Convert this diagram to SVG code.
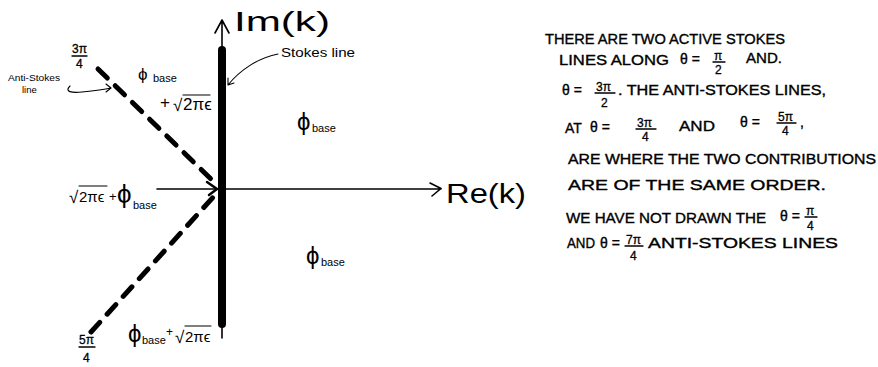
<svg xmlns="http://www.w3.org/2000/svg" width="878" height="367" viewBox="0 0 878 367">
  <style>
    .ink { fill: none; stroke: #000; stroke-linecap: round; stroke-linejoin: round; }
    .thin { stroke-width: 1.6; }
    .dash { stroke-width: 5; stroke-dasharray: 13 11; }
    text { font-family: "Liberation Sans", "DejaVu Sans", sans-serif; fill: #000; }
    .note { font-size: 14px; stroke: #000; stroke-width: 0.35; }
    .frac { font-size: 12px; stroke: #000; stroke-width: 0.3; }
    .lab { font-size: 17px; }
    .sub { font-size: 11px; }
    .axis { font-size: 27px; }
  </style>

  <!-- axes and Stokes / anti-Stokes lines -->
  <g id="connectors">
    <!-- imaginary axis -->
    <path class="ink thin" d="M222 338 V20 M215 33 L222 20 L229 33"/>
    <!-- Stokes line (thick) -->
    <path class="ink" stroke-width="8" d="M222 50 V324"/>
    <!-- real axis -->
    <path class="ink thin" d="M157 189 H441 M430 183 L441 188.5 L432 196"/>
    <!-- anti-Stokes line at 3pi/4 -->
    <path class="ink dash" d="M98 69 L214 182"/>
    <path class="ink" stroke-width="2.5" d="M207 182 L217 189 L209 195"/>
    <!-- anti-Stokes line at 5pi/4 -->
    <path class="ink dash" d="M91 332 L216 194"/>
    <!-- pointers to the labelled lines -->
    <path class="ink" stroke-width="1.1" d="M278 54 C258 58 240 70 228 85 M228 78 L228 85 L234 83"/>
    <path class="ink" stroke-width="1.1" d="M70 86 C64 92 72 93 82 92 C92 91 102 90 111 88 M106 84 L111 88 L106 92"/>
  </g>

  <g id="axis-im">
    <text class="axis" x="234" y="31" textLength="96" lengthAdjust="spacingAndGlyphs">Im(k)</text>
  </g>
  <g id="axis-re">
    <text class="axis" x="446" y="203" textLength="80" lengthAdjust="spacingAndGlyphs">Re(k)</text>
  </g>

  <g id="stokes-label">
    <text x="281" y="57" font-size="12" textLength="74" lengthAdjust="spacingAndGlyphs">Stokes line</text>
  </g>
  <g id="anti-stokes-label">
    <text x="8" y="81" font-size="9.5" textLength="52" lengthAdjust="spacingAndGlyphs">Anti-Stokes</text>
    <text x="22" y="93" font-size="9.5">line</text>
  </g>

  <g id="angle-3pi4">
    <text class="frac" x="72" y="53">3π</text>
    <path class="ink" stroke-width="1.3" d="M72 56 H87"/>
    <text class="frac" x="76" y="68">4</text>
  </g>
  <g id="angle-5pi4">
    <text class="frac" x="79" y="344">5π</text>
    <path class="ink" stroke-width="1.3" d="M79 347 H95"/>
    <text class="frac" x="83" y="362">4</text>
  </g>

  <!-- region labels -->
  <g id="region-upper-left">
    <text class="lab" x="138" y="80" font-size="24">ϕ</text>
    <text class="sub" x="153" y="82">base</text>
    <text class="lab" x="160" y="108">+</text>
    <text class="lab" x="173" y="111">√</text>
    <path class="ink" stroke-width="1.2" d="M183 95 H210"/>
    <text class="lab" x="183" y="110" font-size="15">2πϵ</text>
  </g>
  <g id="region-upper-right">
    <text x="297" y="130" font-size="24">ϕ</text>
    <text class="sub" x="312" y="132">base</text>
  </g>
  <g id="region-left">
    <text class="lab" x="69" y="203">√</text>
    <path class="ink" stroke-width="1.2" d="M79 186 H107"/>
    <text x="79" y="202" font-size="15">2πϵ</text>
    <text x="109" y="201" font-size="13">+</text>
    <text x="117" y="203" font-size="26">ϕ</text>
    <text class="sub" x="133" y="209">base</text>
  </g>
  <g id="region-lower-right">
    <text x="306" y="264" font-size="24">ϕ</text>
    <text class="sub" x="321" y="266">base</text>
  </g>
  <g id="region-lower-left">
    <text x="128" y="342" font-size="24">ϕ</text>
    <text class="sub" x="142" y="344">base</text>
    <text x="166" y="336" font-size="12">+</text>
    <text class="lab" x="175" y="343">√</text>
    <path class="ink" stroke-width="1.2" d="M185 326 H211"/>
    <text x="185" y="342" font-size="15">2πϵ</text>
  </g>

  <!-- explanatory note -->
  <g id="note">
    <text class="note" x="545" y="44" textLength="240" lengthAdjust="spacingAndGlyphs">THERE ARE TWO ACTIVE STOKES</text>

    <text class="note" x="559" y="65" textLength="110" lengthAdjust="spacingAndGlyphs">LINES ALONG</text>
    <text class="note" x="680" y="64">θ =</text>
    <text class="frac" x="714" y="60">π</text>
    <path class="ink" stroke-width="1.3" d="M713 62 H725"/>
    <text class="frac" x="715" y="74">2</text>
    <text class="note" x="746" y="63" textLength="36" lengthAdjust="spacingAndGlyphs">AND.</text>

    <text class="note" x="562" y="95">θ =</text>
    <text class="frac" x="596" y="91">3π</text>
    <path class="ink" stroke-width="1.3" d="M595 93 H615"/>
    <text class="frac" x="601" y="107">2</text>
    <text class="note" x="618" y="95" textLength="208" lengthAdjust="spacingAndGlyphs">. THE ANTI-STOKES LINES,</text>

    <text class="note" x="565" y="133">AT</text>
    <text class="note" x="590" y="132">θ =</text>
    <text class="frac" x="637" y="127">3π</text>
    <path class="ink" stroke-width="1.3" d="M636 129 H656"/>
    <text class="frac" x="642" y="141">4</text>
    <text class="note" x="679" y="131" textLength="36" lengthAdjust="spacingAndGlyphs">AND</text>
    <text class="note" x="740" y="127">θ =</text>
    <text class="frac" x="778" y="121">5π</text>
    <path class="ink" stroke-width="1.3" d="M777 123 H796"/>
    <text class="frac" x="782" y="135">4</text>
    <text class="note" x="800" y="127">,</text>

    <text class="note" x="568" y="164" textLength="308" lengthAdjust="spacingAndGlyphs">ARE WHERE THE TWO CONTRIBUTIONS</text>
    <text class="note" x="568" y="190" textLength="258" lengthAdjust="spacingAndGlyphs">ARE OF THE SAME ORDER.</text>

    <text class="note" x="566" y="223" textLength="200" lengthAdjust="spacingAndGlyphs">WE HAVE NOT DRAWN THE</text>
    <text class="note" x="780" y="221">θ =</text>
    <text class="frac" x="806" y="215">π</text>
    <path class="ink" stroke-width="1.3" d="M805 217 H817"/>
    <text class="frac" x="807" y="230">4</text>

    <text class="note" x="567" y="248" textLength="28" lengthAdjust="spacingAndGlyphs">AND</text>
    <text class="note" x="600" y="248">θ =</text>
    <text class="frac" x="626" y="244">7π</text>
    <path class="ink" stroke-width="1.3" d="M625 246 H643"/>
    <text class="frac" x="630" y="260">4</text>
    <text class="note" x="648" y="248" textLength="190" lengthAdjust="spacingAndGlyphs">ANTI-STOKES LINES</text>
  </g>
</svg>
